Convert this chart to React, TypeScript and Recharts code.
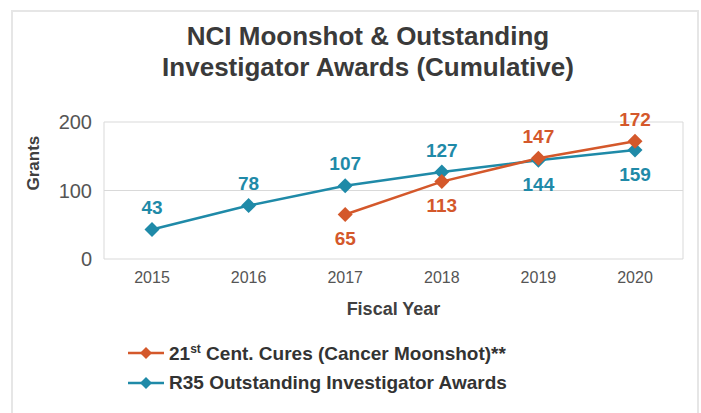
import { CartesianGrid, LabelList, Line, LineChart, XAxis, YAxis } from "recharts";

const years = ["2015", "2016", "2017", "2018", "2019", "2020"];
const moonshot = [null, null, 65, 113, 147, 172];
const r35 = [43, 78, 107, 127, 144, 159];
const yTicks = [0, 100, 200];

// which side each value label sits on (true = above the point)
const moonshotAbove = [false, false, false, false, true, true];
const r35Above = [true, true, true, true, false, false];

const orange = "#d4582b";
const teal = "#1f8aa8";
const font = "'Liberation Sans', Arial, sans-serif";

const data = years.map((year, i) => ({ year, moonshot: moonshot[i], r35: r35[i] }));

const Diamond = (props: any) => {
  const { cx, cy, fill, value } = props;
  const s = 7.5;
  if (cx == null || cy == null || value == null) return null;
  return <polygon points={`${cx},${cy - s} ${cx + s},${cy} ${cx},${cy + s} ${cx - s},${cy}`} fill={fill} />;
};

const makeLabel = (color: string, above: boolean[]) => (props: any) => {
  const { x, y, value, index } = props;
  if (value == null) return null;
  const dy = above[index] ? -22 : 24;
  return (
    <text x={x} y={y + dy} fill={color} textAnchor="middle" dominantBaseline="central" fontSize={19} fontWeight="bold" fontFamily={font}>
      {value}
    </text>
  );
};

const LegendRow = ({ color, children }: { color: string; children: any }) => (
  <div style={{ display: "flex", alignItems: "center", height: 30 }}>
    <svg width={36} height={14} style={{ marginRight: 5 }}>
      <line x1={0} y1={7} x2={36} y2={7} stroke={color} strokeWidth={2.5} />
      <polygon points="18,1 24,7 18,13 12,7" fill={color} />
    </svg>
    <span>{children}</span>
  </div>
);

export default function App() {
  return (
    <div style={{ position: "absolute", left: 0, top: 0, width: 701, height: 413, background: "#fff", fontFamily: font, overflow: "hidden" }}>
      <div style={{ position: "absolute", left: 11, top: 10, width: 684, height: 420, border: "2px solid #e6e6e6" }} />
      <div style={{ position: "absolute", left: 0, top: 21, width: 736, textAlign: "center", fontSize: 26, fontWeight: "bold", lineHeight: "31px", color: "#3a3a3a" }}>
        NCI Moonshot &amp; Outstanding
        <br />
        Investigator Awards (Cumulative)
      </div>
      <div style={{ position: "absolute", left: 0, top: 0 }}>
        <LineChart width={701} height={413} data={data} margin={{ top: 122, right: 18, bottom: 124, left: 44 }}>
          <CartesianGrid
            stroke="#d9d9d9"
            verticalCoordinatesGenerator={({ offset }: any) => [offset.left, offset.left + offset.width]}
          />
          <XAxis
            dataKey="year"
            axisLine={false}
            tickLine={false}
            height={30}
            padding={{ left: 48, right: 48 }}
            tick={{ fill: "#555", fontSize: 16, fontFamily: font }}
            dy={5}
            label={{ value: "Fiscal Year", position: "insideBottom", offset: -26, fill: "#404040", fontSize: 18, fontWeight: "bold", fontFamily: font }}
          />
          <YAxis
            domain={[0, 200]}
            ticks={yTicks}
            axisLine={false}
            tickLine={false}
            width={60}
            tick={{ fill: "#555", fontSize: 20, fontFamily: font }}
            tickMargin={6}
            label={{ value: "Grants", angle: -90, position: "insideLeft", offset: -11, fill: "#404040", fontSize: 17, fontWeight: "bold", fontFamily: font }}
          />
          <Line
            dataKey="r35"
            stroke={teal}
            strokeWidth={2.5}
            dot={<Diamond fill={teal} />}
            activeDot={false}
            isAnimationActive={false}
          >
            <LabelList dataKey="r35" content={makeLabel(teal, r35Above)} />
          </Line>
          <Line
            dataKey="moonshot"
            stroke={orange}
            strokeWidth={2.5}
            dot={<Diamond fill={orange} />}
            activeDot={false}
            isAnimationActive={false}
          >
            <LabelList dataKey="moonshot" content={makeLabel(orange, moonshotAbove)} />
          </Line>
        </LineChart>
      </div>
      <div style={{ position: "absolute", left: 128, top: 338, fontSize: 19, fontWeight: "bold", color: "#333" }}>
        <LegendRow color={orange}>
          21<sup style={{ fontSize: 12, verticalAlign: "7px" }}>st</sup> Cent. Cures (Cancer Moonshot)**
        </LegendRow>
        <LegendRow color={teal}>R35 Outstanding Investigator Awards</LegendRow>
      </div>
    </div>
  );
}
